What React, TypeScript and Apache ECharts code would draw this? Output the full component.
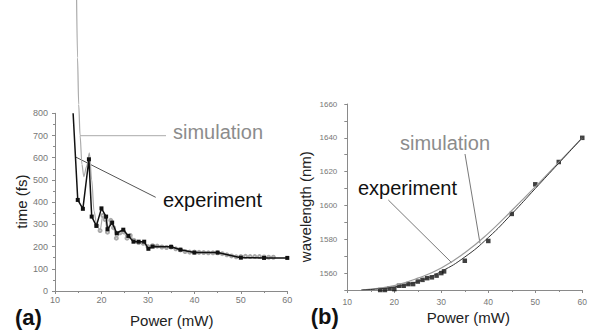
import React, { useEffect, useRef } from "react";
import * as echarts from "echarts";

// Panel (a): pulse duration vs power
const expA_x = [13.9, 14.9, 16.0, 17.3, 17.9, 18.9, 20.0, 21.0, 21.3, 22.3, 23.3, 24.7, 25.8, 26.9, 28.0, 29.2, 30.1, 31.0, 35.0, 37.0, 40.0, 45.0, 50.0, 55.0, 60.0];
const expA_y = [800, 410, 370, 593, 335, 293, 372, 335, 278, 308, 260, 276, 248, 222, 222, 222, 190, 200, 199, 186, 173, 173, 150, 149, 149];

const simA_x = [14.6, 14.85, 15.1, 15.4, 15.8, 16.2, 16.8, 17.4, 17.9, 18.4, 19.0, 19.7, 20.3, 20.8, 21.3, 22.0, 22.6, 23.2, 24.0, 24.8, 25.5, 26.2, 27, 28, 29, 30, 31, 32, 33, 34, 35, 36, 37, 38, 39, 40, 41, 42, 43, 44, 45, 46, 47, 48, 49, 50, 51, 52, 53, 54, 55, 56, 57];
const simA_y = [1400, 1050, 840, 700, 570, 515, 560, 622, 500, 360, 295, 272, 340, 322, 265, 318, 285, 238, 262, 266, 238, 250, 228, 218, 215, 200, 204, 202, 198, 196, 198, 190, 185, 178, 175, 175, 174, 173, 172, 172, 172, 168, 163, 158, 154, 155, 156, 155, 155, 155, 153, 152, 152];

// Panel (b): wavelength vs power
const expB_x = [16, 17, 18, 19, 20, 21, 22, 23, 24, 25, 26, 27, 28, 29, 30, 30.6, 35, 40, 45, 50, 55, 60];
const expB_y = [1549, 1550, 1550, 1551, 1550.5, 1552.5, 1552.5, 1553.5, 1553.5, 1555, 1556, 1557, 1557.5, 1558.5, 1560, 1561, 1567.3, 1579, 1595, 1612.5, 1625.7, 1640];
const fitB_x = [13, 16, 20, 25, 30, 35, 40, 45, 50, 55, 60];
const fitB_y = [1550, 1550.5, 1551.8, 1555, 1561, 1569.5, 1581, 1595, 1610, 1625, 1640];
const simB_x = [13, 16, 20, 25, 30, 35, 40, 45, 50, 55, 60];
const simB_y = [1550, 1550.8, 1552.6, 1557, 1563, 1572, 1583.5, 1597, 1611, 1625.5, 1640];

const timeTicks = [0, 100, 200, 300, 400, 500, 600, 700, 800];
const wlLabels = [1560, 1580, 1600, 1620, 1640, 1660];
const powerTicks = [10, 20, 30, 40, 50, 60];

const pairs = (xs: number[], ys: number[]) => xs.map((x, i) => [x, ys[i]]);

export default function App() {
  const ref = useRef<HTMLDivElement>(null);
  useEffect(() => {
    document.body.style.margin = "0";
    const chart = echarts.init(ref.current!, undefined, { renderer: "svg" });
    const axisCommon = {
      axisLine: { lineStyle: { color: "#8a8a8a", width: 1 } },
      axisTick: { show: true, inside: false, length: 3, lineStyle: { color: "#8a8a8a" } },
      minorTick: { show: true, splitNumber: 2, length: 2, lineStyle: { color: "#8a8a8a" } },
      splitLine: { show: false },
    };
    const font = "Liberation Sans, Arial, sans-serif";
    const simAData = pairs(simA_x, simA_y).map((p) =>
      p[0] >= 19 ? { value: p } : { value: p, symbol: "none" }
    );
    const expAData = pairs(expA_x, expA_y).map((p, i) =>
      i === 0 ? { value: p, symbol: "none" } : { value: p }
    );
    chart.setOption({
      animation: false,
      grid: [
        { left: 55, top: 113.3, width: 232.3, height: 177.7 },
        { left: 347.3, top: 104, width: 240, height: 186 },
      ],
      xAxis: [
        {
          gridIndex: 0, type: "value", min: powerTicks[0], max: powerTicks[powerTicks.length - 1], interval: 10,
          ...axisCommon,
          axisLabel: { fontSize: 9, color: "#777", margin: 4, fontFamily: font },
        },
        {
          gridIndex: 1, type: "value", min: powerTicks[0], max: powerTicks[powerTicks.length - 1], interval: 10,
          ...axisCommon,
          axisLabel: { fontSize: 8.5, color: "#777", margin: 7, fontFamily: font },
        },
      ],
      yAxis: [
        {
          gridIndex: 0, type: "value", min: timeTicks[0], max: timeTicks[timeTicks.length - 1], interval: 100,
          ...axisCommon,
          axisLabel: { fontSize: 9, color: "#777", margin: 7, fontFamily: font },
        },
        {
          gridIndex: 1, type: "value", min: 1550, max: 1660, interval: 10,
          ...axisCommon,
          minorTick: { show: false },
          axisLabel: {
            fontSize: 8, color: "#777", margin: 10, fontFamily: font,
            formatter: (v: number) => (wlLabels.includes(v) ? String(v) : ""),
          },
        },
      ],
      series: [
        {
          type: "line", xAxisIndex: 0, yAxisIndex: 0, data: simAData, clip: false,
          smooth: 0.3, smoothMonotone: "x",
          symbol: "emptyCircle", symbolSize: 3,
          lineStyle: { color: "#aaaaaa", width: 1.2 },
          itemStyle: { color: "#aaaaaa", borderColor: "#aaaaaa", borderWidth: 0.8 },
          z: 2,
        },
        {
          type: "line", xAxisIndex: 0, yAxisIndex: 0, data: expAData,
          symbol: "rect", symbolSize: 4, showAllSymbol: true,
          lineStyle: { color: "#111", width: 1.5 },
          itemStyle: { color: "#111" },
          z: 3,
        },
        {
          type: "line", xAxisIndex: 1, yAxisIndex: 1, data: pairs(simB_x, simB_y),
          smooth: 0.5, symbol: "none",
          lineStyle: { color: "#9a9a9a", width: 1.2 },
        },
        {
          type: "line", xAxisIndex: 1, yAxisIndex: 1, data: pairs(fitB_x, fitB_y),
          smooth: 0.5, symbol: "none",
          lineStyle: { color: "#333", width: 1 },
        },
        {
          type: "scatter", xAxisIndex: 1, yAxisIndex: 1, data: pairs(expB_x, expB_y),
          symbol: "rect", symbolSize: 4.5,
          itemStyle: { color: "#111" },
        },
      ],
      graphic: [
        // axis titles
        { type: "text", x: 171.7, y: 320.5, style: { text: "Power (mW)", font: `15px ${font}`, fill: "#222", align: "center", verticalAlign: "middle" } },
        { type: "text", x: 468.3, y: 317.5, style: { text: "Power (mW)", font: `15px ${font}`, fill: "#222", align: "center", verticalAlign: "middle" } },
        { type: "text", x: 21, y: 201.7, rotation: Math.PI / 2, style: { text: "time (fs)", font: `15px ${font}`, fill: "#222", align: "center", verticalAlign: "middle" } },
        { type: "text", x: 305, y: 206.7, rotation: Math.PI / 2, style: { text: "wavelength (nm)", font: `15px ${font}`, fill: "#222", align: "center", verticalAlign: "middle" } },
        // panel labels
        { type: "text", x: 15, y: 317.5, style: { text: "(a)", font: `bold 22px ${font}`, fill: "#111", verticalAlign: "middle" } },
        { type: "text", x: 310.7, y: 316.7, style: { text: "(b)", font: `bold 22px ${font}`, fill: "#111", verticalAlign: "middle" } },
        // annotations (a)
        { type: "line", shape: { x1: 80, y1: 135.7, x2: 166, y2: 135.7 }, style: { stroke: "#aaaaaa", lineWidth: 1 } },
        { type: "text", x: 173, y: 131.7, style: { text: "simulation", font: `20px ${font}`, fill: "#8c8c8c", verticalAlign: "middle" } },
        { type: "line", shape: { x1: 75, y1: 156.7, x2: 155.7, y2: 197.3 }, style: { stroke: "#555", lineWidth: 1 } },
        { type: "text", x: 163, y: 200, style: { text: "experiment", font: `20px ${font}`, fill: "#111", verticalAlign: "middle" } },
        // annotations (b)
        { type: "line", shape: { x1: 465, y1: 154, x2: 480, y2: 243.3 }, style: { stroke: "#555", lineWidth: 0.8 } },
        { type: "text", x: 400, y: 142.7, style: { text: "simulation", font: `20px ${font}`, fill: "#8c8c8c", verticalAlign: "middle" } },
        { type: "line", shape: { x1: 388.3, y1: 200, x2: 451.7, y2: 262.7 }, style: { stroke: "#555", lineWidth: 0.8 } },
        { type: "text", x: 358, y: 188, style: { text: "experiment", font: `20px ${font}`, fill: "#111", verticalAlign: "middle" } },
      ],
    });
    return () => chart.dispose();
  }, []);
  return <div ref={ref} style={{ width: 590, height: 332 }} />;
}
